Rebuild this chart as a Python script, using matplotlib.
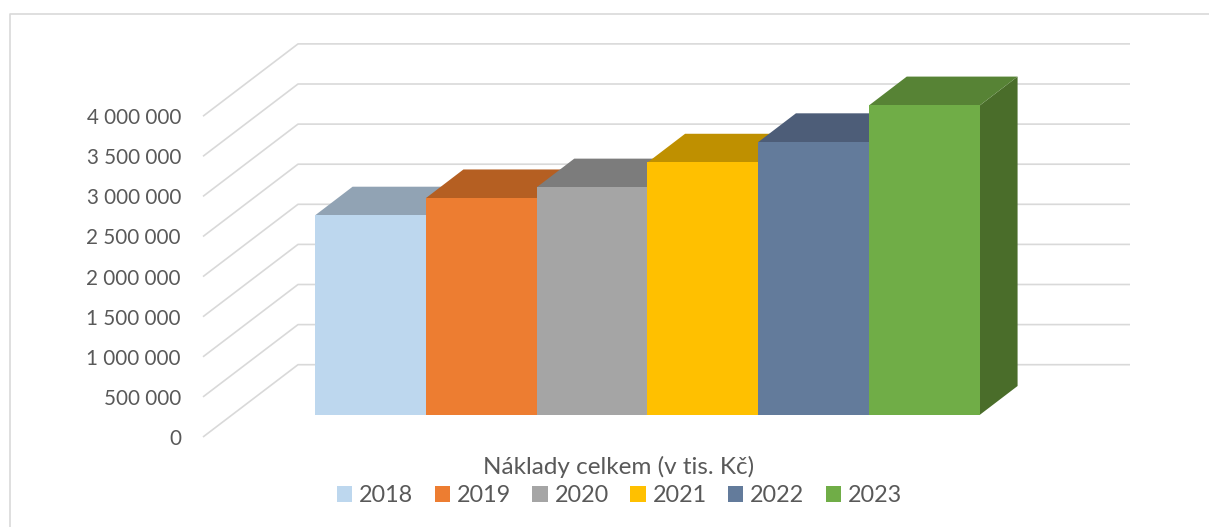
# -*- coding: utf-8 -*-
import matplotlib as mpl
mpl.use('Agg')
import matplotlib.pyplot as plt
from matplotlib.lines import Line2D
from matplotlib.patches import Patch, Polygon

plt.rcParams['font.family'] = ['Lato', 'DejaVu Sans']

# data
years = ['2018', '2019', '2020', '2021', '2022', '2023']
costs = [2485000, 2700000, 2835000, 3145000, 3400000, 3858000]
ticks = [0, 500000, 1000000, 1500000, 2000000, 2500000, 3000000, 3500000, 4000000]
tick_labels = ['0', '500 000', '1 000 000', '1 500 000', '2 000 000',
               '2 500 000', '3 000 000', '3 500 000', '4 000 000']
title = 'Náklady celkem (v tis. Kč)'

# colours
front = ['#BDD7EE', '#ED7D31', '#A5A5A5', '#FFC000', '#637B9B', '#70AD47']
top = ['#91A3B4', '#B55F22', '#7C7C7C', '#BF9000', '#4D5D78', '#578335']
side = ['#7F8FA0', '#9A5120', '#6C6C6C', '#A67D00', '#425168', '#4A6D2A']
grid_c = '#D9D9D9'
text_c = '#595959'

W, H = 1209, 527
px_cat = 110.83  # pixels per category
px_val = 40.1 / 500000  # pixels per value unit
x0, y0 = 315, 414.7  # front bottom left corner of first bar


def dx(px):
    return px / px_cat


def dv(px):
    return px / px_val


fig = plt.figure(figsize=(W / 100, H / 100), dpi=100)
ax = fig.add_axes([0, 0, 1, 1])
ax.set_xlim(dx(0 - x0), dx(W - x0))
ax.set_ylim(dv(y0 - H), dv(y0))
ax.axis('off')

# outer frame, top and left only
fig.add_artist(Line2D([10 / W, 10 / W, 1], [0, 1 - 13.5 / H, 1 - 13.5 / H],
                      transform=fig.transFigure, color=grid_c, lw=1.2))

# walls
for t, lab in zip(ticks, tick_labels):
    ax.plot([dx(203 - x0), dx(298 - x0), dx(1130 - x0)],
            [t + dv(y0 - 437), t + dv(y0 - 364.7), t + dv(y0 - 364.7)],
            color=grid_c, lw=1.2, zorder=1, solid_capstyle='butt')
    ax.text(dx(181 - x0), t + dv(y0 - 439), lab, ha='right', va='center',
            fontsize=14.9, color=text_c)

# bars
depth_x, depth_v = dx(37.6), dv(28.7)
for i, v in enumerate(costs):
    l, r = i, i + 1
    ax.add_patch(Polygon([(r, 0), (r + depth_x, depth_v), (r + depth_x, v + depth_v), (r, v)],
                         facecolor=side[i], edgecolor='none', zorder=2 + i))
    ax.add_patch(Polygon([(l, v), (r, v), (r + depth_x, v + depth_v), (l + depth_x, v + depth_v)],
                         facecolor=top[i], edgecolor='none', zorder=2 + i))
    ax.bar(i + 0.5, v, width=1, color=front[i], zorder=2.5 + i)

ax.text(dx(618.5 - x0), dv(y0 - 467), title, ha='center', va='center',
        fontsize=17.5, color=text_c)

handles = [Patch(facecolor=c, edgecolor='none') for c in front]
ax.legend(handles, years, ncol=6, loc='center', frameon=False,
          bbox_to_anchor=(619.5 / W, 1 - 495.5 / H), fontsize=16.8, labelcolor=text_c,
          handlelength=0.65, handleheight=0.65, handletextpad=0.3,
          columnspacing=0.92, borderpad=0, borderaxespad=0)

plt.savefig('out.png', dpi=100)
